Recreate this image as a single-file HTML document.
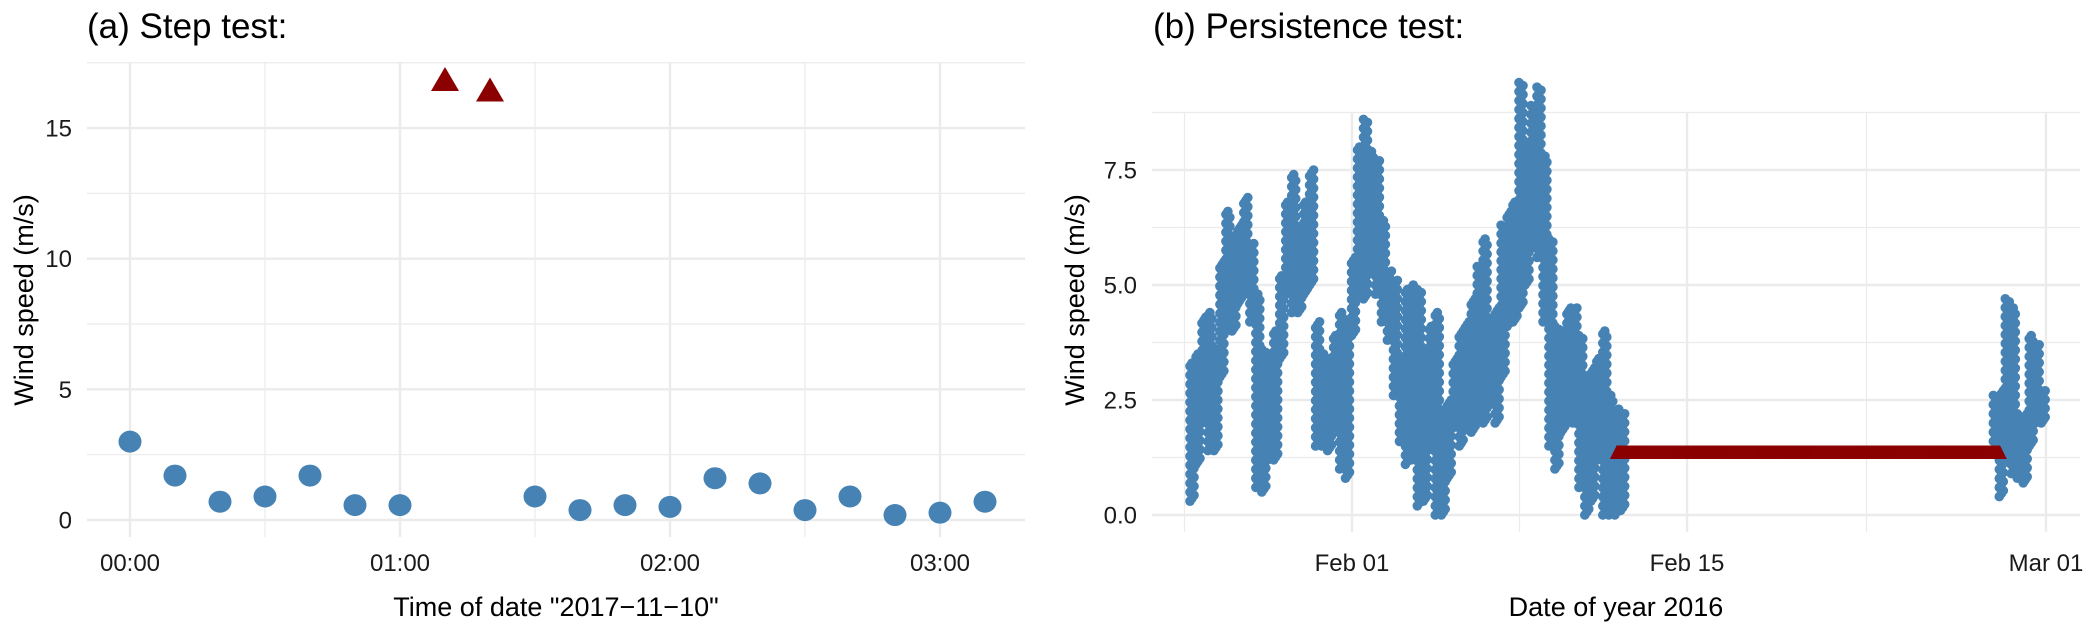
<!DOCTYPE html>
<html><head><meta charset="utf-8">
<style>
html,body{margin:0;padding:0;background:#fff;}
svg{display:block;font-family:"Liberation Sans",Arial,sans-serif;}
</style></head>
<body>
<svg id="chart" width="2087" height="625" viewBox="0 0 2087 625" xmlns="http://www.w3.org/2000/svg">
<g id="pa"></g>
<g id="pb"></g>
</svg>
<script>
// ---------- Panel (a) data ----------
const stepMinutes = [0,10,20,30,40,50,60,90,100,110,120,130,140,150,160,170,180,190];
const stepValues  = [3.0,1.7,0.7,0.9,1.7,0.57,0.57,0.9,0.38,0.57,0.5,1.6,1.4,0.38,0.9,0.19,0.28,0.7];
const flagMinutes = [70,80];
const flagValues  = [16.8,16.4];
const stepXTicks = [0,60,120,180];
const stepXTickLabels = ["00:00","01:00","02:00","03:00"];
const stepYTicks = [0,5,10,15];

// ---------- Panel (b) data (6-hour bins: low / high of observed speeds) ----------
const seg1StartDay = -6.77; // days relative to Feb 01
const seg1Low  = [0.3,1.1,2.0,1.4,1.4,3.0,4.0,4.0,4.6,4.8,4.2,0.6,0.5,1.2,1.2,3.4,4.8,4.4,4.4,4.8,5.0,1.5,1.5,1.4,1.9,1.0,0.8,3.9,4.8,4.7,5.3,4.8,4.2,3.8,2.6,1.6,1.1,1.2,
                  0.2,0.3,1.5,0.0,0.0,0.8,1.9,1.5,1.9,1.8,2.1,2.0,2.4,2.0,3.0,4.1,4.2,4.5,5.0,5.8,5.6,4.2,1.5,1.0,1.8,2.0,2.0,0.6,0.0,0.3,1.2,0.0,0.0,0.0,0.1];
const seg1High = [3.3,3.5,4.3,4.4,3.6,5.5,6.6,6.0,6.3,6.9,5.9,4.8,3.6,3.5,4.0,5.2,6.8,7.4,6.2,6.8,7.5,4.2,3.5,3.4,3.9,4.4,4.2,5.6,8.0,8.6,7.9,7.7,6.4,5.3,5.1,3.4,4.9,5.0,
                  4.9,3.6,4.1,4.4,2.3,2.5,3.4,4.0,4.2,4.7,5.4,6.0,4.2,4.5,6.3,6.6,6.8,9.4,8.0,8.9,9.3,7.8,6.0,4.1,4.0,4.5,4.5,3.9,3.0,3.2,3.4,4.0,2.6,2.3,2.2];
const seg2StartDay = 26.8;
const seg2Low  = [1.6,0.4,1.2,0.9,0.8,0.7,1.5,2.0,2.0];
const seg2High = [2.6,2.7,4.7,4.5,2.2,2.2,3.9,3.7,2.7];
const persistStartDay = 11.07;
const persistEndDay = 27.1;
const persistValue = 1.37;
const dateXTicks = [0,14,29];
const dateXTickLabels = ["Feb 01","Feb 15","Mar 01"];
const dateYTicks = [0,2.5,5,7.5];
const dateYTickLabels = ["0.0","2.5","5.0","7.5"];

const NS = "http://www.w3.org/2000/svg";
function mk(parent, tag, attrs){
  const e = document.createElementNS(NS, tag);
  for (const k in attrs) e.setAttribute(k, attrs[k]);
  parent.appendChild(e); return e;
}
const BLUE = "#4682b4", RED = "#8b0000", GRID = "#ebebeb";
const TICK = 24, TITLE = 35, AXT = 27;

// ---------- Panel (a) ----------
(function(){
  const g = document.getElementById("pa");
  const L=87,R=1025,T=62,B=537;
  const xS = m => 130 + m*(270/60);
  const yS = v => 520 - v*26.13;
  for (let m=30; m<=210; m+=60){ const x=xS(m); if(x<R){ const l=mk(g,"line",{x1:x,x2:x,y1:T,y2:B,stroke:GRID,"stroke-width":1.2});
     }}
  for (let v=2.5; v<=17.5; v+=5){ const y=yS(v); const l=mk(g,"line",{x1:L,x2:R,y1:y,y2:y,stroke:GRID,"stroke-width":1.2});
     }
  stepXTicks.forEach((m,i)=>{ const x=xS(m);
    const l=mk(g,"line",{x1:x,x2:x,y1:T,y2:B,stroke:GRID,"stroke-width":2.4});
     
    const t=mk(g,"text",{x:x,y:571,"font-size":TICK,"text-anchor":"middle",fill:"#1a1a1a"}); t.textContent=stepXTickLabels[i];
     
  });
  stepYTicks.forEach(v=>{ const y=yS(v);
    const l=mk(g,"line",{x1:L,x2:R,y1:y,y2:y,stroke:GRID,"stroke-width":2.4});
     
    const t=mk(g,"text",{x:72,y:y+8.5,"font-size":TICK,"text-anchor":"end",fill:"#1a1a1a"}); t.textContent=String(v);
     
  });
  stepMinutes.forEach((m,i)=>{
    const c=mk(g,"ellipse",{cx:xS(m),cy:yS(stepValues[i]),rx:11.5,ry:11,fill:BLUE});
     
  });
  flagMinutes.forEach((m,i)=>{
    const x=xS(m), y=yS(flagValues[i]);
    const p=mk(g,"polygon",{points:`${x-14},${y+10} ${x+14},${y+10} ${x},${y-14}`,fill:RED});
     
  });
  const tt=mk(g,"text",{x:87,y:38,"font-size":TITLE,fill:"#000"}); tt.textContent="(a) Step test:";
   
  const xt=mk(g,"text",{x:556,y:616,"font-size":AXT,"text-anchor":"middle",fill:"#000"}); xt.textContent='Time of date "2017\u221211\u221210"';
   
  const yt=mk(g,"text",{x:0,y:0,"font-size":AXT,"text-anchor":"middle",fill:"#000",transform:"translate(33,300) rotate(-90)"}); yt.textContent="Wind speed (m/s)";
   
})();

// ---------- Panel (b) ----------
(function(){
  const g = document.getElementById("pb");
  const L=1152,R=2080,T=112,B=532;
  const xS = d => 1352 + d*23.93;
  const yS = v => 515 - v*46;
  [-7,7,21.5].forEach(d=>{ const x=xS(d); const l=mk(g,"line",{x1:x,x2:x,y1:T,y2:B,stroke:GRID,"stroke-width":1.2});
     });
  [1.25,3.75,6.25,8.75].forEach(v=>{ const y=yS(v); const l=mk(g,"line",{x1:L,x2:R,y1:y,y2:y,stroke:GRID,"stroke-width":1.2});
     });
  dateXTicks.forEach((d,i)=>{ const x=xS(d);
    const l=mk(g,"line",{x1:x,x2:x,y1:T,y2:B,stroke:GRID,"stroke-width":2.4});
     
    const t=mk(g,"text",{x:x,y:571,"font-size":TICK,"text-anchor":"middle",fill:"#1a1a1a"}); t.textContent=dateXTickLabels[i];
     
  });
  dateYTicks.forEach((v,i)=>{ const y=yS(v);
    const l=mk(g,"line",{x1:L,x2:R,y1:y,y2:y,stroke:GRID,"stroke-width":2.4});
     
    const t=mk(g,"text",{x:1137,y:y+8.5,"font-size":TICK,"text-anchor":"end",fill:"#1a1a1a"}); t.textContent=dateYTickLabels[i];
     
  });
  function drawSeg(start, lows, highs){
    const grp = mk(g,"g",{fill:BLUE});
     
    lows.forEach((lo,i)=>{
      const hi = highs[i];
      const d0 = start + i*0.25;
      const y0 = yS(lo), y1 = yS(hi);
      const n = Math.max(2, Math.round((y0-y1)/3));
      for (let k=0;k<=n;k++){
        const y = y0 + (y1-y0)*k/n;
        const x = xS(d0 + 0.25*((k%3)/3));
        mk(grp,"circle",{cx:x.toFixed(1),cy:y.toFixed(1),r:4.8});
      }
    });
  }
  drawSeg(seg1StartDay, seg1Low, seg1High);
  drawSeg(seg2StartDay, seg2Low, seg2High);
  const pg = mk(g,"g",{fill:RED});
   
  for (let d=persistStartDay; d<=persistEndDay+1e-9; d+=1/24){
    const x=xS(d), y=yS(persistValue);
    mk(pg,"polygon",{points:`${x-7},${y+7} ${x+7},${y+7} ${x},${y-7}`});
  }
  const tt=mk(g,"text",{x:1153,y:38,"font-size":TITLE,fill:"#000"}); tt.textContent="(b) Persistence test:";
   
  const xt=mk(g,"text",{x:1616,y:616,"font-size":AXT,"text-anchor":"middle",fill:"#000"}); xt.textContent="Date of year 2016";
   
  const yt=mk(g,"text",{x:0,y:0,"font-size":AXT,"text-anchor":"middle",fill:"#000",transform:"translate(1084,300) rotate(-90)"}); yt.textContent="Wind speed (m/s)";
   
})();
</script>
</body></html>
